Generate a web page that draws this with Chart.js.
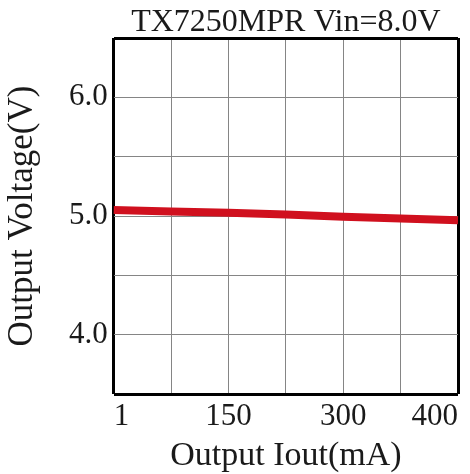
<!DOCTYPE html>
<html>
<head>
<meta charset="utf-8">
<script src="https://cdn.jsdelivr.net/npm/chart.js@4"></script>
<style>
  html, body { margin: 0; padding: 0; background: #ffffff; }
  #wrap { width: 470px; height: 474px; }
</style>
</head>
<body>
<div id="wrap"><canvas id="c" width="470" height="474"></canvas></div>
<script>
// ---- data ----
const chartTitle = "TX7250MPR Vin=8.0V";
const xAxisTitle = "Output Iout(mA)";
const yAxisTitle = "Output Voltage(V)";
// x categories (grid divisions); blank entries are unlabeled grid lines
const xCategories = ["1", "", "150", "", "300", "", "400"];
// output voltage at each grid position (V)
const voutValues = [5.050, 5.038, 5.027, 5.013, 4.993, 4.979, 4.964];
// y axis
const yMin = 3.5, yMax = 6.5, yStep = 0.5;
const yLabeledTicks = [4.0, 5.0, 6.0];

const FONT = "'Liberation Serif', 'DejaVu Serif', serif";
const TEXT = "#1a1a1a";
const GRID = "#858585";
const FRAME = "#000000";

const isEdgeY = (ctx) => ctx.tick && (Math.abs(ctx.tick.value - yMin) < 1e-9 || Math.abs(ctx.tick.value - yMax) < 1e-9);
const isEdgeX = (ctx) => ctx.index === 0 || ctx.index === xCategories.length - 1;

new Chart(document.getElementById("c"), {
  type: "line",
  data: {
    labels: xCategories,
    datasets: [{
      data: voutValues,
      borderColor: "#d0101e",
      borderWidth: 8,
      pointRadius: 0,
      tension: 0,
      fill: false
    }]
  },
  options: {
    responsive: false,
    animation: false,
    devicePixelRatio: 1,
    layout: { padding: { left: 0, right: 12, top: 0, bottom: 0 } },
    plugins: {
      legend: { display: false },
      tooltip: { enabled: false },
      title: {
        display: true,
        text: chartTitle,
        fullSize: false,
        color: TEXT,
        font: { family: FONT, size: 32, weight: "normal", lineHeight: "31px" },
        padding: { top: 7, bottom: 0 }
      }
    },
    scales: {
      x: {
        type: "category",
        offset: false,
        border: { display: false },
        grid: {
          drawTicks: false,
          color: (ctx) => isEdgeX(ctx) ? FRAME : GRID,
          lineWidth: (ctx) => isEdgeX(ctx) ? 3 : 1
        },
        ticks: {
          autoSkip: false,
          maxRotation: 0,
          minRotation: 0,
          align: "inner",
          padding: 7,
          color: TEXT,
          font: { family: FONT, size: 31, lineHeight: "32px" }
        },
        title: {
          display: true,
          text: xAxisTitle,
          color: TEXT,
          font: { family: FONT, size: 34, lineHeight: "31px" },
          padding: { top: 1, bottom: 2 }
        }
      },
      y: {
        min: yMin,
        max: yMax,
        border: { display: false },
        grid: {
          drawTicks: false,
          color: (ctx) => isEdgeY(ctx) ? FRAME : GRID,
          lineWidth: (ctx) => isEdgeY(ctx) ? 3 : 1
        },
        ticks: {
          stepSize: yStep,
          padding: 6,
          color: TEXT,
          font: { family: FONT, size: 31, lineHeight: "32px" },
          callback: (v) => yLabeledTicks.some(t => Math.abs(t - v) < 1e-9) ? Number(v).toFixed(1) : ""
        },
        title: {
          display: true,
          text: yAxisTitle,
          color: TEXT,
          font: { family: FONT, size: 35, lineHeight: "32px" },
          padding: { top: 7, bottom: 24 }
        }
      }
    }
  }
});
</script>
</body>
</html>
